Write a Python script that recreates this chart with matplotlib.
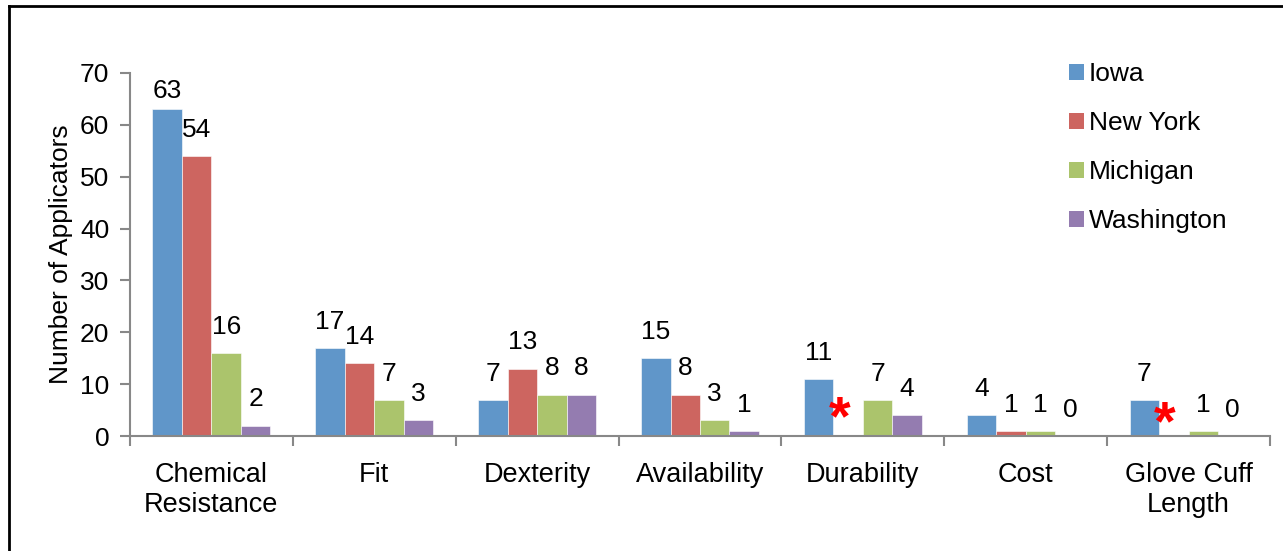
import numpy as np
import matplotlib
matplotlib.use('Agg')
import matplotlib.pyplot as plt
from matplotlib.lines import Line2D

plt.rcParams['font.family'] = ['Liberation Sans', 'DejaVu Sans']

# ---------------------------------------------------------------------------
# Data
# ---------------------------------------------------------------------------
categories = ["Chemical\nResistance", "Fit", "Dexterity", "Availability",
              "Durability", "Cost", "Glove Cuff\nLength"]
states = ["Iowa", "New York", "Michigan", "Washington"]
iowa = [63, 17, 7, 15, 11, 4, 7]
new_york = [54, 14, 13, 8, None, 1, None]     # None = not asked (marked *)
michigan = [16, 7, 8, 3, 7, 1, 1]
washington = [2, 3, 8, 1, 4, 0, 0]
series = [iowa, new_york, michigan, washington]
colors = ['#6096C9', '#CD6560', '#ABC46C', '#947CB0']

# ---------------------------------------------------------------------------
# Plot
# ---------------------------------------------------------------------------
W, H = 1283, 551
FS = 19
fig = plt.figure(figsize=(W / 100, H / 100), dpi=100)
ax = fig.add_axes([130 / W, 1 - 436 / H, (1270 - 130) / W, (436 - 73) / H])

x = np.arange(len(categories))
bw = 0.181
grey = '#888888'
label_gap = 3.7      # data units between bar top and label baseline
label_max = 65.2     # keep labels inside the plot area

for i, (vals, col, name) in enumerate(zip(series, colors, states)):
    xs = x + (i - 1.5) * bw
    for k, (xi, v) in enumerate(zip(xs, vals)):
        if v is None:
            ya = 0.4 if k < len(categories) - 1 else -0.65
            ax.text(xi - 0.3 * bw, ya, "*", color='red', fontsize=40,
                    fontweight='bold', ha='center', va='baseline')
            continue
        ax.bar(xi, v, bw, color=col, edgecolor='white', linewidth=0.4)
        ax.text(xi, min(v + label_gap, label_max), str(v),
                ha='center', va='baseline', fontsize=FS)
    ax.bar(0, 0, 0, color=col, label=name)

ax.set_xlim(-0.5, len(categories) - 0.5)
ax.set_ylim(0, 70)
ax.set_yticks(range(0, 71, 10))
ax.set_xticks(x)
ax.set_xticklabels(categories, fontsize=FS + 0.5, linespacing=1.2)
ax.set_xticks(np.arange(-0.5, len(categories), 1), minor=True)
ax.tick_params(axis='x', which='major', length=0, pad=19)
ax.tick_params(axis='x', which='minor', length=7, direction='out', color=grey, width=1.5)
ax.tick_params(axis='y', length=7, direction='out', color=grey, width=1.5,
               labelsize=FS, pad=8)

for s in ['top', 'right']:
    ax.spines[s].set_visible(False)
for s in ['left', 'bottom']:
    ax.spines[s].set_color(grey)
    ax.spines[s].set_linewidth(1.5)

ax.set_ylabel("Number of Applicators", fontsize=FS, labelpad=5)

fig.legend(loc='upper left', bbox_to_anchor=(1056 / W, 1 - 49 / H),
           frameon=False, fontsize=FS, handlelength=0.55, handleheight=0.55,
           handletextpad=0.2, labelspacing=0.95, borderpad=0)

# outer frame (left and top edges visible)
fig.add_artist(Line2D([9 / W, 9 / W], [0, 1 - 6 / H], color='black', lw=2))
fig.add_artist(Line2D([9 / W, 1], [1 - 6 / H, 1 - 6 / H], color='black', lw=2))

fig.savefig('out.png', dpi=100)
